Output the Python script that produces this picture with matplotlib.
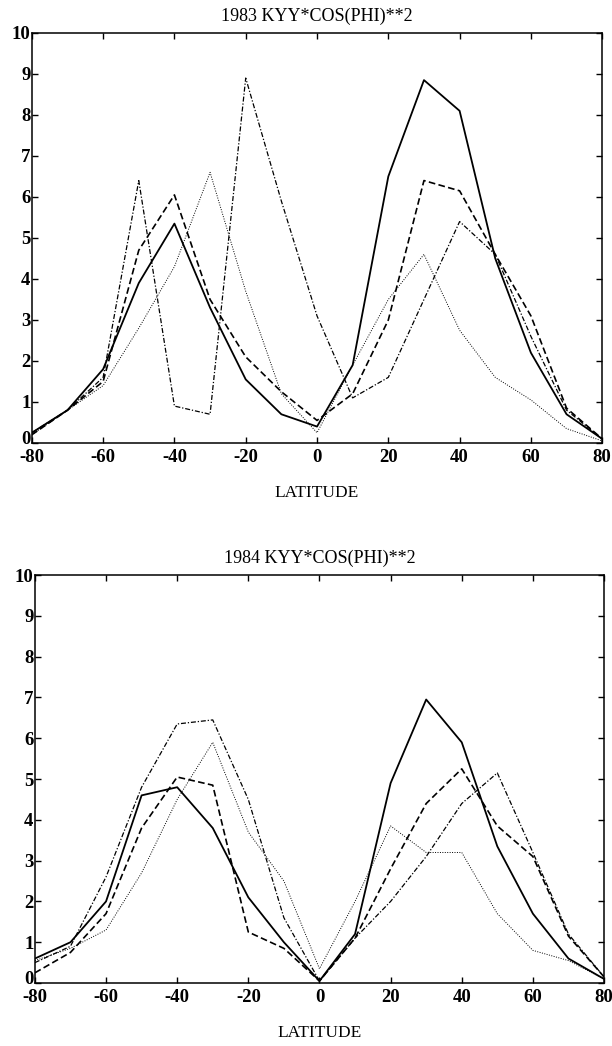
import matplotlib
matplotlib.use("Agg")
import matplotlib.pyplot as plt
import matplotlib.transforms as mtransforms

plt.rcParams['font.family'] = ['Liberation Serif', 'DejaVu Serif']
plt.rcParams['axes.unicode_minus'] = False

lat = [-80, -70, -60, -50, -40, -30, -20, -10, 0, 10, 20, 30, 40, 50, 60, 70, 80]

# 1983
solid_83 = [0.25, 0.8, 1.8, 3.9, 5.35, 3.3, 1.55, 0.7, 0.4, 1.9, 6.5, 8.85, 8.1, 4.5, 2.2, 0.7, 0.1]
dashed_83 = [0.2, 0.8, 1.5, 4.7, 6.05, 3.5, 2.1, 1.25, 0.55, 1.2, 3.0, 6.4, 6.15, 4.6, 3.1, 0.85, 0.1]
dashdot_83 = [0.25, 0.8, 1.6, 6.4, 0.9, 0.7, 8.9, 5.9, 3.1, 1.1, 1.6, 3.5, 5.4, 4.6, 2.6, 0.8, 0.1]
dotted_83 = [0.2, 0.8, 1.4, 2.8, 4.3, 6.6, 3.7, 1.2, 0.25, 1.9, 3.5, 4.6, 2.75, 1.6, 1.05, 0.35, 0.05]

# 1984
solid_84 = [0.6, 1.0, 2.0, 4.6, 4.8, 3.8, 2.1, 1.0, 0.05, 1.2, 4.9, 6.95, 5.9, 3.35, 1.7, 0.6, 0.1]
dashed_84 = [0.25, 0.75, 1.7, 3.8, 5.05, 4.85, 1.25, 0.85, 0.05, 1.1, 2.8, 4.4, 5.25, 3.85, 3.1, 1.15, 0.15]
dashdot_84 = [0.5, 0.9, 2.6, 4.8, 6.35, 6.45, 4.5, 1.6, 0.05, 1.1, 2.0, 3.1, 4.4, 5.15, 3.2, 1.2, 0.15]
dotted_84 = [0.55, 0.85, 1.3, 2.7, 4.5, 5.9, 3.7, 2.5, 0.35, 2.0, 3.85, 3.2, 3.2, 1.7, 0.8, 0.55, 0.1]

xticks = [-80, -60, -40, -20, 0, 20, 40, 60, 80]
yticks = list(range(0, 11))

panels = [
    ("1983 KYY*COS(PHI)**2", [solid_83, dashed_83, dashdot_83, dotted_83]),
    ("1984 KYY*COS(PHI)**2", [solid_84, dashed_84, dashdot_84, dotted_84]),
]
styles = [
    dict(ls='-', lw=1.3),
    dict(ls=(0, (4, 2)), lw=1.2),
    dict(ls=(0, (4, 1.5, 1, 1.5)), lw=0.9),
    dict(ls=(0, (1, 1.5)), lw=0.7),
]

fig = plt.figure(figsize=(6.12, 10.46), dpi=100)
boxes = [[0.052, 0.5765, 0.932, 0.392], [0.057, 0.0602, 0.930, 0.390]]

for box, (title, series) in zip(boxes, panels):
    ax = fig.add_axes(box)
    for vals, st in zip(series, styles):
        ax.plot(lat, vals, color='black', **st)
    ax.set_xlim(-80, 80)
    ax.set_ylim(0, 10)
    ax.set_xticks(xticks)
    ax.set_yticks(yticks)
    ax.tick_params(direction='in', length=4, width=1, top=True, right=True,
                   labelsize=13.5, pad=1)
    ax.tick_params(axis='x', pad=4)
    for lab in ax.get_xticklabels() + ax.get_yticklabels():
        lab.set_fontweight('bold')
    # lift the y "0" a little so it clears the "-80" below it
    zero = ax.get_yticklabels()[0]
    zero.set_transform(zero.get_transform() +
                       mtransforms.ScaledTranslation(0, 4 / 72, fig.dpi_scale_trans))
    for sp in ax.spines.values():
        sp.set_linewidth(1.1)
    ax.set_title(title, fontsize=13, pad=9)
    ax.set_xlabel("LATITUDE", fontsize=12.5, labelpad=14)

fig.savefig("out.png", dpi=100, facecolor='white')
